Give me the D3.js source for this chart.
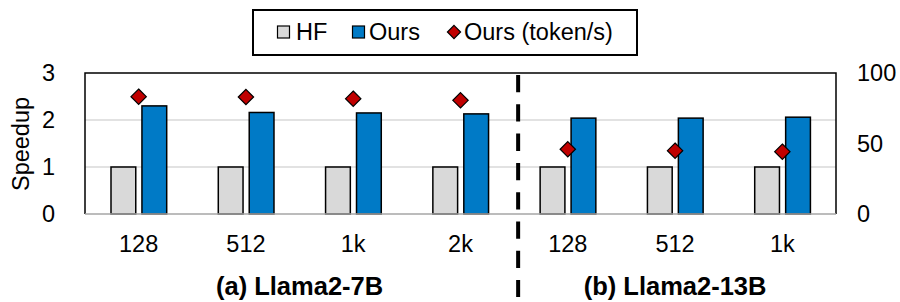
<!DOCTYPE html>
<html>
<head>
<meta charset="utf-8">
<script src="https://cdn.jsdelivr.net/npm/d3@7"></script>
<style>
  body { margin: 0; background: #fff; }
  svg { display: block; font-family: Arial, "Liberation Sans", sans-serif; }
</style>
</head>
<body>
<div id="chart"></div>
<script>
// values
const categories = ["128", "512", "1k", "2k", "128", "512", "1k"];
const hfSpeedup = [1, 1, 1, 1, 1, 1, 1];
const oursSpeedup = [2.30, 2.16, 2.15, 2.13, 2.04, 2.04, 2.06];
const oursTokens = [83.2, 83.0, 81.8, 80.6, 45.9, 44.9, 44.2];
const groups = [
  { label: "(a) Llama2-7B", from: 0, to: 3 },
  { label: "(b) Llama2-13B", from: 4, to: 6 }
];
const leftTicks = [0, 1, 2, 3];
const rightTicks = [0, 50, 100];

const width = 900, height = 302;
const margin = { top: 73, left: 85, right: 64, bottom: 88 };
const plotRight = width - margin.right;   // 836
const plotBottom = height - margin.bottom; // 214
const fs = 23.5;

const svg = d3.select("#chart").append("svg")
    .attr("width", width)
    .attr("height", height);

const x = d3.scaleBand()
    .domain(d3.range(categories.length))
    .range([margin.left, plotRight]);

const inner = d3.scaleBand()
    .domain(["HF", "Ours"])
    .range([26, 81.7])
    .paddingInner(0.2);

const y = d3.scaleLinear().domain([0, 3]).range([plotBottom, margin.top]);
const y2 = d3.scaleLinear().domain([0, 100]).range([plotBottom, margin.top]);

// gridlines
svg.append("g")
  .selectAll("line")
  .data([1, 2])
  .join("line")
    .attr("x1", margin.left).attr("x2", plotRight)
    .attr("y1", d => y(d)).attr("y2", d => y(d))
    .attr("stroke", "#d9d9d9")
    .attr("stroke-width", 1.5);

// bars
const bars = [];
categories.forEach((c, i) => {
  bars.push({ i, key: "HF", v: hfSpeedup[i] });
  bars.push({ i, key: "Ours", v: oursSpeedup[i] });
});
const color = { HF: "#d9d9d9", Ours: "#007ac6" };

svg.append("g")
  .selectAll("rect")
  .data(bars)
  .join("rect")
    .attr("x", d => x(d.i) + inner(d.key))
    .attr("y", d => y(d.v))
    .attr("width", inner.bandwidth())
    .attr("height", d => y(0) - y(d.v))
    .attr("fill", d => color[d.key])
    .attr("stroke", "#000")
    .attr("stroke-width", 1.5);

// frame: black top/left/right, grey bottom axis
svg.append("path")
    .attr("d", `M${margin.left},${plotBottom}V${margin.top}H${plotRight}V${plotBottom}`)
    .attr("fill", "none")
    .attr("stroke", "#000")
    .attr("stroke-width", 1.5);
svg.append("line")
    .attr("x1", margin.left).attr("x2", plotRight)
    .attr("y1", plotBottom).attr("y2", plotBottom)
    .attr("stroke", "#a6a6a6")
    .attr("stroke-width", 1.5);

// token/s diamonds on the right axis
const diamond = d3.symbol().type(d3.symbolDiamond2).size(150);
svg.append("g")
  .selectAll("path")
  .data(oursTokens)
  .join("path")
    .attr("d", diamond)
    .attr("transform", (d, i) => `translate(${x(i) + x.bandwidth() / 2},${y2(d)})`)
    .attr("fill", "#c00000")
    .attr("stroke", "#000")
    .attr("stroke-width", 1.2);

// dashed separator between groups
const sepX = (x(groups[0].to) + x.bandwidth() + x(groups[1].from)) / 2 + 4;
svg.append("line")
    .attr("x1", sepX).attr("x2", sepX)
    .attr("y1", 75).attr("y2", 297)
    .attr("stroke", "#000")
    .attr("stroke-width", 4)
    .attr("stroke-dasharray", "17.3,12");

// left axis labels
svg.append("g")
  .selectAll("text")
  .data(leftTicks)
  .join("text")
    .attr("x", 55)
    .attr("y", d => y(d))
    .attr("dy", "0.35em")
    .attr("text-anchor", "end")
    .attr("font-size", fs)
    .text(d => d);

// right axis labels
svg.append("g")
  .selectAll("text")
  .data(rightTicks)
  .join("text")
    .attr("x", 857)
    .attr("y", d => y2(d))
    .attr("dy", "0.35em")
    .attr("text-anchor", "start")
    .attr("font-size", fs)
    .text(d => d);

svg.append("text")
    .attr("transform", "translate(29,144) rotate(-90)")
    .attr("text-anchor", "middle")
    .attr("font-size", fs)
    .text("Speedup");

// category labels
svg.append("g")
  .selectAll("text")
  .data(categories)
  .join("text")
    .attr("x", (d, i) => x(i) + x.bandwidth() / 2)
    .attr("y", 252)
    .attr("text-anchor", "middle")
    .attr("font-size", fs)
    .text(d => d);

// group labels
svg.append("g")
  .selectAll("text")
  .data(groups)
  .join("text")
    .attr("x", d => (x(d.from) + x(d.to) + x.bandwidth()) / 2)
    .attr("y", 295)
    .attr("text-anchor", "middle")
    .attr("font-size", 25.5)
    .attr("font-weight", "bold")
    .text(d => d.label);

// legend
const legend = svg.append("g");
legend.append("rect")
    .attr("x", 253).attr("y", 10)
    .attr("width", 384).attr("height", 45)
    .attr("fill", "#fff")
    .attr("stroke", "#000")
    .attr("stroke-width", 2);

const legendItems = [
  { key: "HF", label: "HF", type: "rect", mx: 283.5, tx: 296 },
  { key: "Ours", label: "Ours", type: "rect", mx: 358.5, tx: 369 },
  { key: "tok", label: "Ours (token/s)", type: "diamond", mx: 454, tx: 464 }
];
legendItems.forEach(d => {
  if (d.type === "rect") {
    legend.append("rect")
        .attr("x", d.mx - 6).attr("y", 26)
        .attr("width", 12).attr("height", 12)
        .attr("fill", color[d.key])
        .attr("stroke", "#000")
        .attr("stroke-width", 1.2);
  } else {
    legend.append("path")
        .attr("d", d3.symbol().type(d3.symbolDiamond2).size(110))
        .attr("transform", `translate(${d.mx},32)`)
        .attr("fill", "#c00000")
        .attr("stroke", "#000")
        .attr("stroke-width", 1.2);
  }
  legend.append("text")
      .attr("x", d.tx).attr("y", 32)
      .attr("dy", "0.35em")
      .attr("font-size", fs)
      .text(d.label);
});
</script>
</body>
</html>
